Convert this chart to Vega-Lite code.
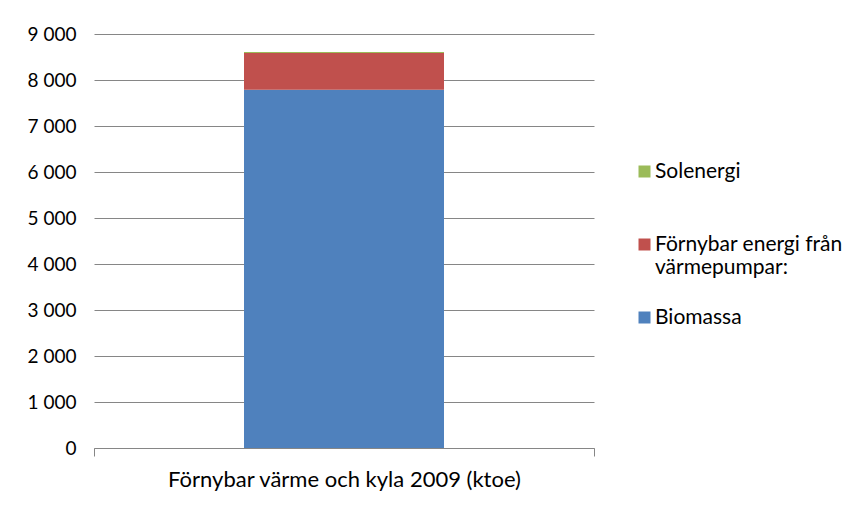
{
  "$schema": "https://vega.github.io/schema/vega-lite/v6.json",
  "width": 500,
  "height": 414,
  "autosize": {"type": "none"},
  "padding": {"left": 94, "top": 34, "right": 271, "bottom": 58},
  "background": "white",
  "config": {
    "view": {"stroke": null},
    "font": "Lato",
    "axis": {"labelFont": "Lato", "labelColor": "#000000", "labelFontSize": 19}
  },
  "data": {
    "values": [
      {"kategori": "Förnybar värme och kyla 2009 (ktoe)", "typ": "Biomassa", "ordning": 1, "ktoe": 7790},
      {"kategori": "Förnybar värme och kyla 2009 (ktoe)", "typ": "Förnybar energi från värmepumpar:", "ordning": 2, "ktoe": 798},
      {"kategori": "Förnybar värme och kyla 2009 (ktoe)", "typ": "Solenergi", "ordning": 3, "ktoe": 22}
    ]
  },
  "mark": {"type": "bar", "width": {"band": 0.4}},
  "encoding": {
    "x": {
      "field": "kategori",
      "type": "nominal",
      "title": null,
      "scale": {"paddingInner": 0, "paddingOuter": 0},
      "axis": {
        "labelAngle": 0,
        "labelFontSize": 22,
        "labelLimit": 600,
        "tickBand": "extent",
        "domainColor": "#868686",
        "tickColor": "#868686",
        "tickSize": 8,
        "labelPadding": 13,
        "grid": false
      }
    },
    "y": {
      "field": "ktoe",
      "type": "quantitative",
      "stack": "zero",
      "title": null,
      "scale": {"domain": [0, 9000], "nice": false},
      "axis": {
        "values": [0, 1000, 2000, 3000, 4000, 5000, 6000, 7000, 8000, 9000],
        "labelExpr": "replace(format(datum.value, ','), ',', ' ')",
        "domain": false,
        "ticks": false,
        "labelPadding": 18,
        "gridColor": "#868686",
        "gridWidth": 1
      }
    },
    "order": {"field": "ordning", "type": "quantitative"},
    "color": {
      "field": "typ",
      "type": "nominal",
      "scale": {
        "domain": ["Solenergi", "Förnybar energi från värmepumpar:", "Biomassa"],
        "range": ["#9BBB59", "#C0504D", "#4F81BD"]
      },
      "legend": {
        "title": null,
        "orient": "none",
        "legendX": 540,
        "legendY": 127,
        "symbolType": "square",
        "symbolSize": 144,
        "symbolStrokeWidth": 0,
        "labelFont": "Lato",
        "labelFontSize": 21,
        "labelColor": "#000000",
        "labelLimit": 300,
        "labelOffset": 0,
        "rowPadding": 28,
        "labelExpr": "datum.label == 'Förnybar energi från värmepumpar:' ? ['Förnybar energi från', 'värmepumpar:'] : [datum.label, '']",
        "encoding": {"labels": {"update": {"lineHeight": {"value": 25}}}}
      }
    }
  }
}
